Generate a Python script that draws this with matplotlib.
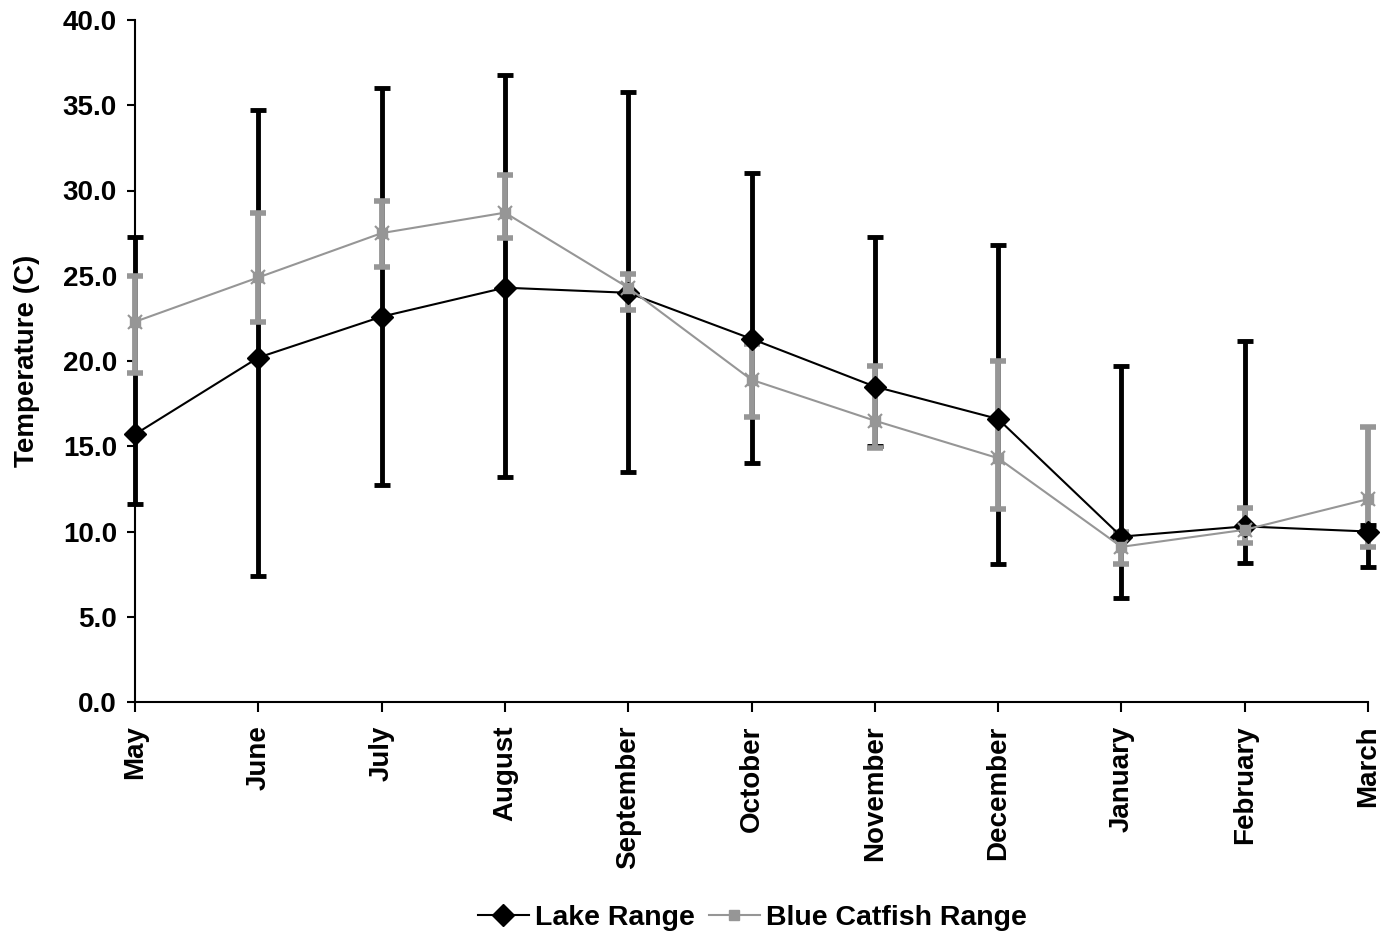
import matplotlib
matplotlib.use("Agg")
import matplotlib.pyplot as plt
import numpy as np

months = ["May", "June", "July", "August", "September", "October",
          "November", "December", "January", "February", "March"]

lake_mean = [15.7, 20.2, 22.6, 24.3, 24.0, 21.3, 18.5, 16.6, 9.7, 10.3, 10.0]
lake_upper = [27.3, 34.7, 36.0, 36.8, 35.8, 31.0, 27.3, 26.8, 19.7, 21.2, 10.4]
lake_lower = [11.6, 7.4, 12.7, 13.2, 13.5, 14.0, 15.0, 8.1, 6.1, 8.15, 7.9]

cat_mean = [22.3, 24.9, 27.5, 28.7, 24.3, 18.9, 16.5, 14.3, 9.1, 10.1, 11.9]
cat_upper = [25.0, 28.7, 29.4, 30.9, 25.1, 21.0, 19.7, 20.0, 10.0, 11.4, 16.1]
cat_lower = [19.3, 22.3, 25.5, 27.2, 23.0, 16.7, 14.9, 11.3, 8.1, 9.3, 9.1]

yticks = [0, 5, 10, 15, 20, 25, 30, 35, 40]

plt.rcParams['font.family'] = ['Liberation Sans', 'DejaVu Sans']
plt.rcParams['font.weight'] = 'bold'

GRAY = '#969696'
FS = 20
fig = plt.figure(figsize=(13.84, 9.39), dpi=100)
ax = fig.add_axes([135/1384, 1-702/939, (1368-135)/1384, (702-20)/939])

x = np.arange(len(months))
lm = np.array(lake_mean); lu = np.array(lake_upper); ll = np.array(lake_lower)
cm = np.array(cat_mean); cu = np.array(cat_upper); cl = np.array(cat_lower)

eb1 = ax.errorbar(x, lm, yerr=[lm - ll, lu - lm], fmt='none', ecolor='black',
                  elinewidth=3.5, capsize=5.5, capthick=3.5, zorder=2)
eb2 = ax.errorbar(x, cm, yerr=[cm - cl, cu - cm], fmt='none', ecolor=GRAY,
                  elinewidth=4.2, capsize=6, capthick=4, zorder=3)
for eb in (eb1, eb2):
    for c in eb[1]:
        c.set_solid_capstyle('round')
        c.set_dash_capstyle('round')
        c.set_clip_on(False)
    for lc in eb[2]:
        lc.set_capstyle('butt')
        lc.set_clip_on(False)

l1, = ax.plot(x, lm, color='black', lw=1.5, marker='D', markersize=11,
              markerfacecolor='black', markeredgecolor='black', zorder=4,
              label='Lake Range', clip_on=False)
l2, = ax.plot(x, cm, color=GRAY, lw=1.5, marker='s', markersize=7,
              markerfacecolor=GRAY, markeredgecolor=GRAY, zorder=5,
              label='Blue Catfish Range', clip_on=False)
ax.plot(x, cm, ls='none', marker='x', markersize=10, markeredgewidth=1.5,
        color=GRAY, zorder=5, clip_on=False)

ax.set_xlim(0, len(months) - 1)
ax.set_ylim(0, 40)
ax.set_yticks(yticks)
ax.set_yticklabels([f"{v:.1f}" for v in yticks], fontsize=FS, fontweight='bold')
ax.set_xticks(x)
ax.set_xticklabels(months, rotation=90, fontsize=FS, fontweight='bold',
                   va='top')
ax.tick_params(axis='y', direction='out', length=6, width=1.5, pad=7)
ax.tick_params(axis='x', direction='out', length=7, width=1.5, pad=10)
for s in ('top', 'right'):
    ax.spines[s].set_visible(False)
for s in ('left', 'bottom'):
    ax.spines[s].set_linewidth(1.5)
ax.set_ylabel('Temperature (C)', fontsize=FS, fontweight='bold', labelpad=16)

fig.legend(handles=[l1, l2], loc='center', bbox_to_anchor=(0.5434, 1 - 918/939),
           ncol=2, frameon=False, prop={'size': 20.5, 'weight': 'bold'},
           handlelength=1.8, handletextpad=0.2, columnspacing=0.5)

fig.savefig('out.png', dpi=100)
